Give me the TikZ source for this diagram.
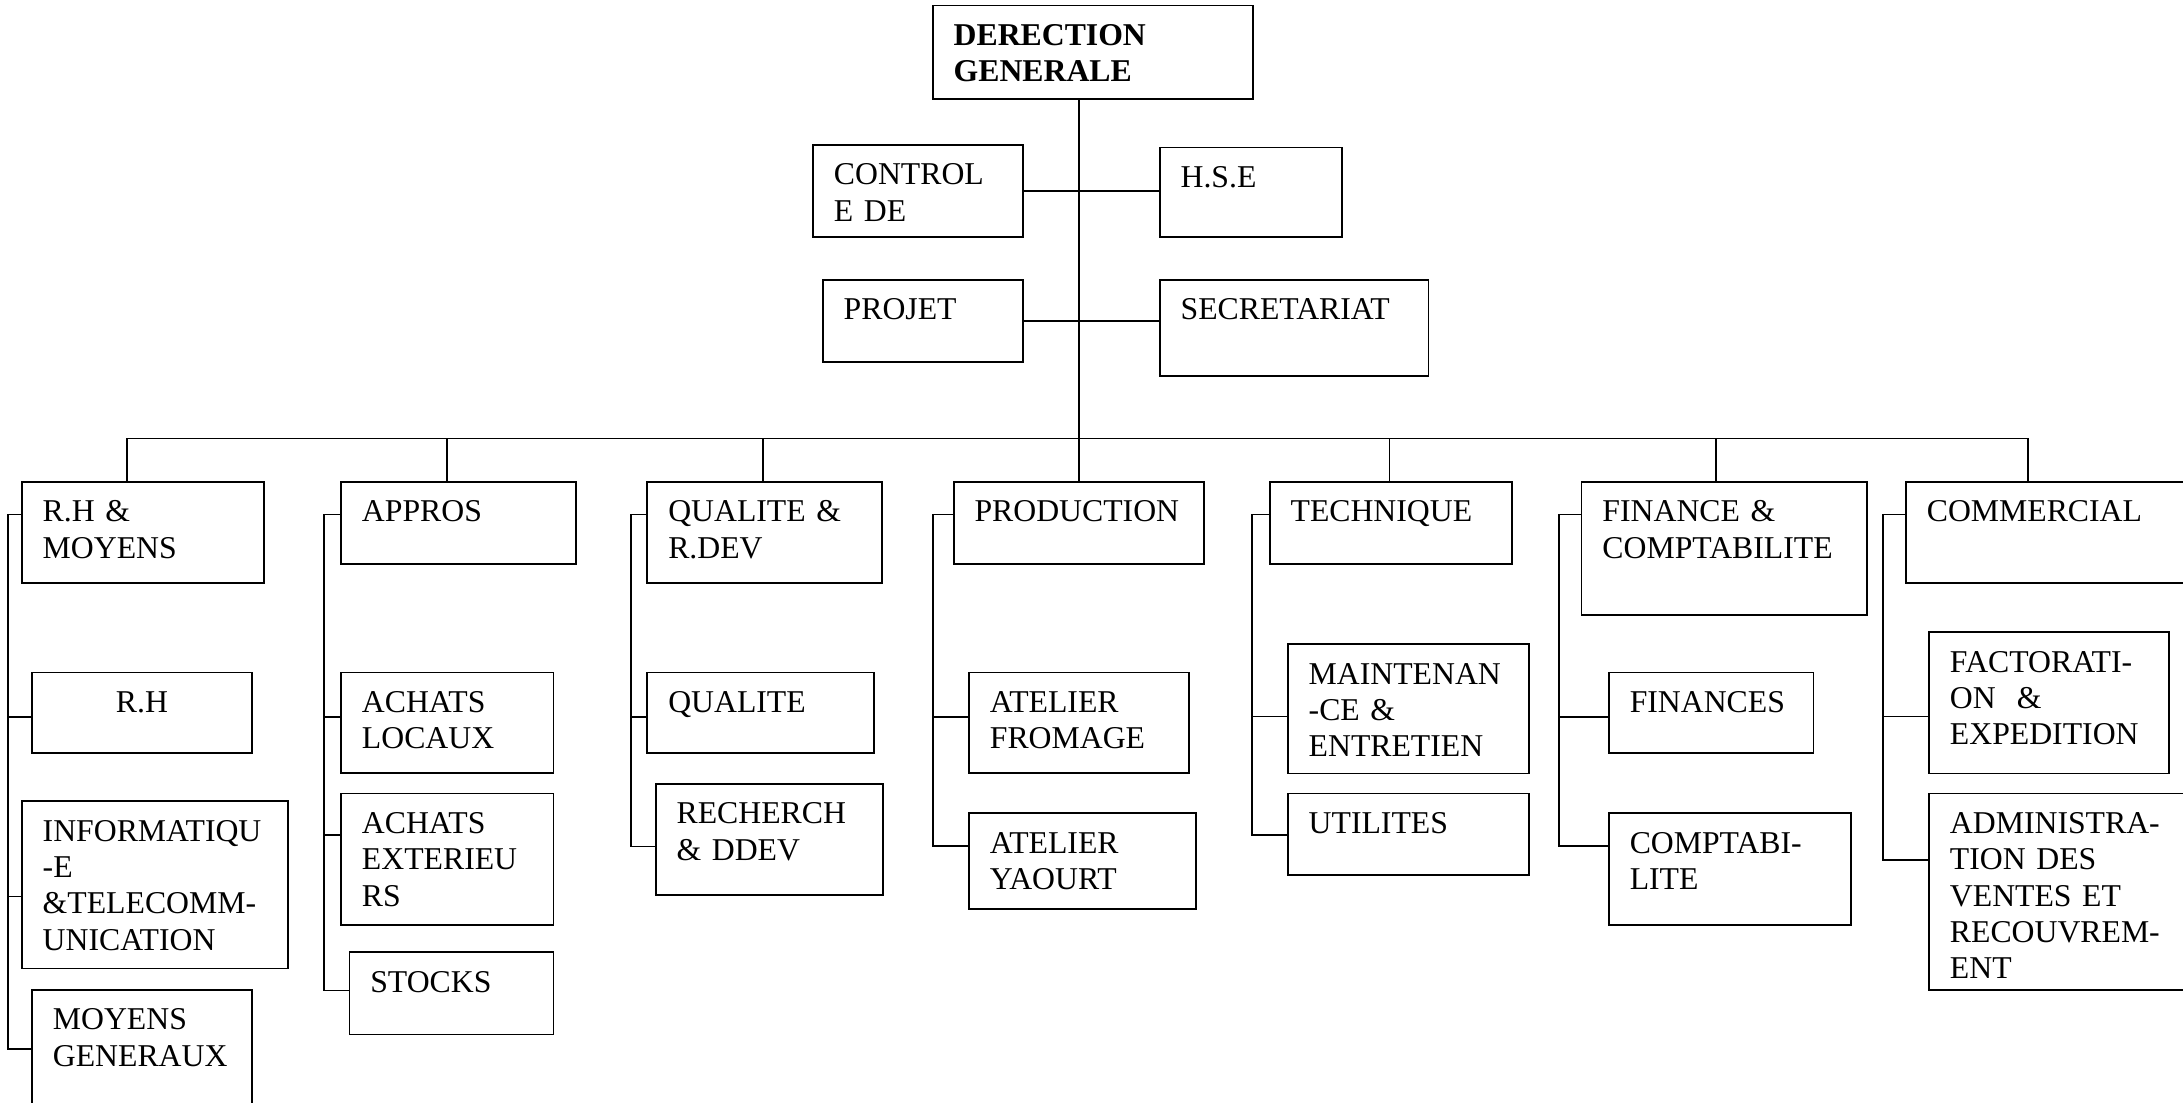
\documentclass[tikz,border=0pt]{standalone}
\usepackage{fontspec}
\setmainfont{Liberation Serif}
\newcommand{\unitfont}{\fontsize{22.8pt}{26pt}\selectfont}
\hyphenpenalty=10000
\tikzset {
  unit/.style = {draw, line width=1.3pt, rectangle, anchor=north west, outer sep=0pt, inner xsep=15pt, inner ysep=0pt, align=left, text height=28.8pt, font=\unitfont},
  link/.style = {line width=1.3pt},
}

\begin{document}
\begin{tikzpicture}[x=1pt, y=-1pt]
    \useasboundingbox (0,0) rectangle (1568,792);
    \clip (0,0) rectangle (1568,792);

    % direction and staff units
    \node[unit, font=\unitfont\bfseries, text width=200pt, text depth=38.2pt] (dg) at (670,4) {DERECTION\\GENERALE};
    \node[unit, text width=121pt, text depth=37.2pt] (ctrl) at (584,104) {CONTROL\\E DE};
    \node[unit, text width=101pt, text depth=35.2pt] (hse) at (833,106) {H.S.E};
    \node[unit, text width=114pt, text depth=30.2pt] (projet) at (591,201) {PROJET};
    \node[unit, text width=163pt, text depth=40.2pt] (secr) at (833,201) {SECRETARIAT};

    % departments
    \node[unit, text width=144pt, text depth=44.2pt] (rhm) at (15.7,346) {R.H \&\\MOYENS};
    \node[unit, text width=139pt, text depth=30.2pt] (appros) at (245,346) {APPROS};
    \node[unit, text width=138.5pt, text depth=44.2pt] (qual) at (465,346) {QUALITE \&\\R.DEV};
    \node[unit, text width=150pt, text depth=30.2pt] (prod) at (685,346) {PRODUCTION};
    \node[unit, text width=144pt, text depth=30.2pt] (tech) at (912,346) {TECHNIQUE};
    \node[unit, text width=175pt, text depth=67.2pt] (fin) at (1136,346) {FINANCE \&\\COMPTABILITE};
    \node[unit, text width=200pt, text depth=44.2pt] (comm) at (1369,346) {COMMERCIAL};

    % services
    \node[unit, align=center, text width=128pt, text depth=29.2pt] (rh) at (23,483) {R.H};
    \node[unit, text width=161pt, text depth=91.2pt] (info) at (15.7,575.6) {INFORMATIQU\\-E\\\&TELECOMM-\\UNICATION};
    \node[unit, text width=128pt, text depth=71.2pt] (mg) at (23,711) {MOYENS\\GENERAUX};
    \node[unit, text width=122.5pt, text depth=43.7pt] (al) at (245,483) {ACHATS\\LOCAUX};
    \node[unit, text width=122.5pt, text depth=65.7pt] (ae) at (245,570) {ACHATS\\EXTERIEU\\RS};
    \node[unit, text width=116.5pt, text depth=30.2pt] (stk) at (251,684) {STOCKS};
    \node[unit, text width=133pt, text depth=29.2pt] (ql) at (465,483) {QUALITE};
    \node[unit, text width=133pt, text depth=51.2pt] (rd) at (471,563) {RECHERCH\\\& DDEV};
    \node[unit, text width=128pt, text depth=43.7pt] (af) at (696,483) {ATELIER\\FROMAGE};
    \node[unit, text width=133pt, text depth=40.2pt] (ay) at (696,584) {ATELIER\\YAOURT};
    \node[unit, text width=143.5pt, text depth=64.2pt] (mt) at (925,462.6) {MAINTENAN\\-CE \&\\ENTRETIEN};
    \node[unit, text width=143.5pt, text depth=29.8pt] (ut) at (925,570) {UTILITES};
    \node[unit, text width=117pt, text depth=29.2pt] (fs) at (1155.6,483) {FINANCES};
    \node[unit, text width=144pt, text depth=51.8pt] (cp) at (1155.6,584) {COMPTABI-\\LITE};
    \node[unit, text width=142.6pt, text depth=72.8pt] (fc) at (1385.6,454) {FACTORATI-\\ON~~\&\\EXPEDITION};
    \node[unit, text width=170pt, text depth=112.2pt] (adm) at (1385.6,570) {ADMINISTRA-\\TION DES\\VENTES ET\\RECOUVREM-\\ENT};

    % trunk and staff links
    \draw[link] (prod.north |- dg.south) -- (prod.north);
    \draw[link] (ctrl.east) -- (ctrl.east -| hse.west);
    \draw[link] (projet.east) -- (projet.east -| secr.west);

    % bus to the departments
    \coordinate (bus) at (0,315);
    \draw[link] ([xshift=75.8pt]rhm.north west) |- ([xshift=87.9pt]comm.north west |- bus) -- ([xshift=87.9pt]comm.north west);
    \draw[link] ([xshift=75.8pt]appros.north west) -- ([xshift=75.8pt]appros.north west |- bus);
    \draw[link] ([xshift=83.2pt]qual.north west) -- ([xshift=83.2pt]qual.north west |- bus);
    \draw[link] ([xshift=86pt]tech.north west) -- ([xshift=86pt]tech.north west |- bus);
    \draw[link] ([xshift=96.7pt]fin.north west) -- ([xshift=96.7pt]fin.north west |- bus);

    % spines down the left of each department
    \coordinate (rhm-sp) at ([xshift=-10pt, yshift=-23.6pt]rhm.north west);
    \draw[link] ([yshift=-23.6pt]rhm.north west) -- (rhm-sp) |- ([yshift=-42.4pt]mg.north west);
    \draw[link] ([yshift=-31.8pt]rh.north west) -| (rhm-sp);
    \draw[link] ([yshift=-68.3pt]info.north west) -| (rhm-sp);

    \coordinate (appros-sp) at ([xshift=-12pt, yshift=-23.6pt]appros.north west);
    \draw[link] ([yshift=-23.6pt]appros.north west) -- (appros-sp) |- ([yshift=-27.4pt]stk.north west);
    \draw[link] ([yshift=-31.8pt]al.north west) -| (appros-sp);
    \draw[link] ([yshift=-30pt]ae.north west) -| (appros-sp);

    \coordinate (qual-sp) at ([xshift=-12pt, yshift=-23.6pt]qual.north west);
    \draw[link] ([yshift=-23.6pt]qual.north west) -- (qual-sp) |- ([yshift=-45pt]rd.north west);
    \draw[link] ([yshift=-31.8pt]ql.north west) -| (qual-sp);

    \coordinate (prod-sp) at ([xshift=-15pt, yshift=-23.6pt]prod.north west);
    \draw[link] ([yshift=-23.6pt]prod.north west) -- (prod-sp) |- ([yshift=-23.8pt]ay.north west);
    \draw[link] ([yshift=-31.8pt]af.north west) -| (prod-sp);

    \coordinate (tech-sp) at ([xshift=-12.6pt, yshift=-23.6pt]tech.north west);
    \draw[link] ([yshift=-23.6pt]tech.north west) -- (tech-sp) |- ([yshift=-30pt]ut.north west);
    \draw[link] ([yshift=-52.1pt]mt.north west) -| (tech-sp);

    \coordinate (fin-sp) at ([xshift=-16pt, yshift=-23.6pt]fin.north west);
    \draw[link] ([yshift=-23.6pt]fin.north west) -- (fin-sp) |- ([yshift=-23.8pt]cp.north west);
    \draw[link] ([yshift=-31.8pt]fs.north west) -| (fin-sp);

    \coordinate (comm-sp) at ([xshift=-16.3pt, yshift=-23.6pt]comm.north west);
    \draw[link] ([yshift=-23.6pt]comm.north west) -- (comm-sp) |- ([yshift=-48pt]adm.north west);
    \draw[link] ([yshift=-60.7pt]fc.north west) -| (comm-sp);

\end{tikzpicture}
\end{document}
